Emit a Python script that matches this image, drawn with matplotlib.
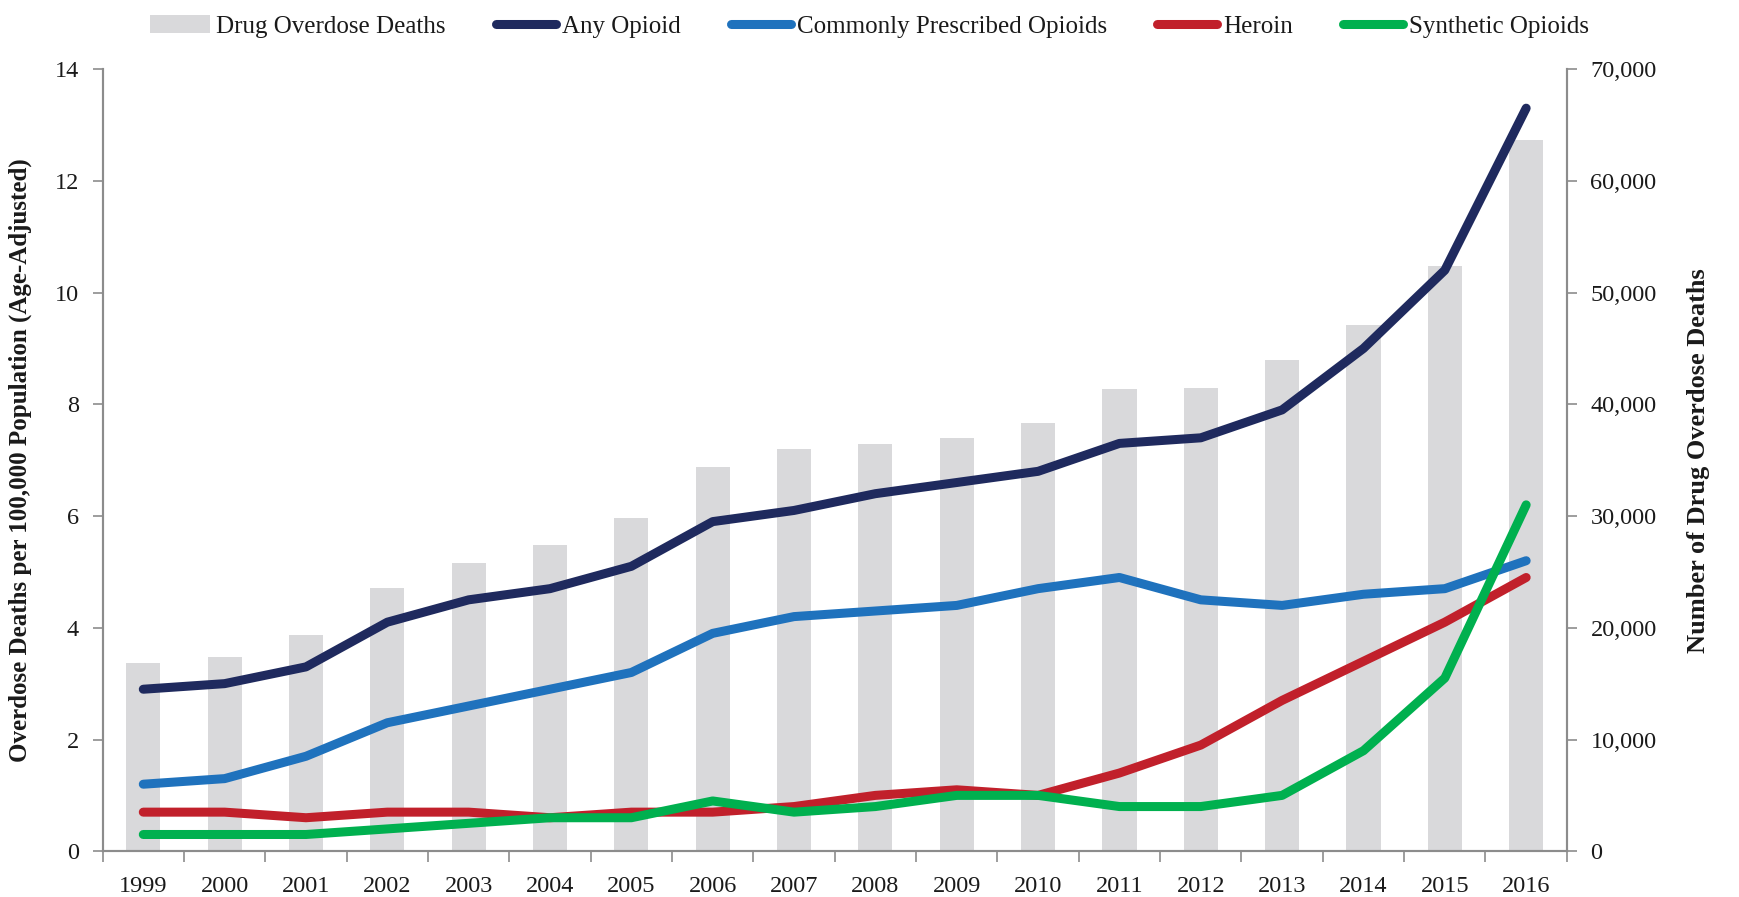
import matplotlib
matplotlib.use("Agg")
import matplotlib.pyplot as plt
from matplotlib.patches import Patch
from matplotlib.lines import Line2D
from matplotlib.ticker import FuncFormatter
import numpy as np

plt.rcParams['font.family'] = ['Liberation Serif', 'DejaVu Serif']

years = [str(y) for y in range(1999, 2017)]

# number of drug overdose deaths (right axis, bars)
total_deaths = [16849, 17415, 19394, 23518, 25785, 27424, 29813, 34425, 36010,
                36450, 37004, 38329, 41340, 41502, 43982, 47055, 52404, 63632]

# rates per 100,000 (left axis, lines)
any_opioid = [2.9, 3.0, 3.3, 4.1, 4.5, 4.7, 5.1, 5.9, 6.1, 6.4, 6.6, 6.8,
              7.3, 7.4, 7.9, 9.0, 10.4, 13.3]
prescribed = [1.2, 1.3, 1.7, 2.3, 2.6, 2.9, 3.2, 3.9, 4.2, 4.3, 4.4, 4.7,
              4.9, 4.5, 4.4, 4.6, 4.7, 5.2]
heroin = [0.7, 0.7, 0.6, 0.7, 0.7, 0.6, 0.7, 0.7, 0.8, 1.0, 1.1, 1.0,
          1.4, 1.9, 2.7, 3.4, 4.1, 4.9]
synthetic = [0.3, 0.3, 0.3, 0.4, 0.5, 0.6, 0.6, 0.9, 0.7, 0.8, 1.0, 1.0,
             0.8, 0.8, 1.0, 1.8, 3.1, 6.2]

series = [
    ("Any Opioid", any_opioid, "#1f2a5e"),
    ("Commonly Prescribed Opioids", prescribed, "#1f72bd"),
    ("Heroin", heroin, "#c1202b"),
    ("Synthetic Opioids", synthetic, "#00b04f"),
]
bar_color = "#d9d9db"
spine_color = "#8c8c8c"
text_color = "#1a1a1a"

fig = plt.figure(figsize=(17.39, 8.97), dpi=100)
ax = fig.add_axes([0.059, 0.051, 0.842, 0.872])
ax2 = ax.twinx()
ax.set_zorder(ax2.get_zorder() + 1)
ax.patch.set_visible(False)

x = np.arange(len(years))

# bars on right axis
ax2.bar(x, total_deaths, width=0.42, color=bar_color, zorder=1)
ax2.set_ylim(0, 70000)
ax2.set_yticks(range(0, 70001, 10000))
ax2.yaxis.set_major_formatter(FuncFormatter(lambda v, p: f"{int(v):,}"))
ax2.set_ylabel("Number of Drug Overdose Deaths", fontsize=19, fontweight='bold',
               color=text_color, labelpad=22)

# lines on left axis
for name, vals, col in series:
    ax.plot(x, vals, color=col, linewidth=6.5, solid_capstyle='round',
            solid_joinstyle='round', zorder=3)
ax.set_ylim(0, 14)
ax.set_yticks(range(0, 15, 2))
ax.set_ylabel("Overdose Deaths per 100,000 Population (Age-Adjusted)",
              fontsize=18, fontweight='bold', color=text_color, labelpad=16)

ax.set_xlim(-0.5, len(years) - 0.5)
ax.set_xticks(x)
ax.set_xticklabels(years)
ax.set_xticks(np.arange(-0.5, len(years)), minor=True)
ax.tick_params(axis='x', which='major', length=0, pad=18, labelsize=17.5,
               labelcolor=text_color)
ax.tick_params(axis='x', which='minor', length=8, direction='out',
               color=spine_color, width=1.2)

ax.tick_params(axis='y', length=7, direction='out', color=spine_color, width=1.2,
               labelsize=17.5, labelcolor=text_color, pad=10)
ax2.tick_params(axis='y', length=7, direction='out', color=spine_color, width=1.2,
                labelsize=17.5, labelcolor=text_color, pad=10)

for a in (ax, ax2):
    a.spines['top'].set_visible(False)
    for s in ('left', 'right', 'bottom'):
        a.spines[s].set_color(spine_color)
        a.spines[s].set_linewidth(1.5)

handles = [Patch(facecolor=bar_color, edgecolor='none')]
labels = ["Drug Overdose Deaths"]
for name, vals, col in series:
    handles.append(Line2D([0], [0], color=col, linewidth=6.5, solid_capstyle='round'))
    labels.append(name)
fig.legend(handles, labels, loc='upper center', bbox_to_anchor=(0.5, 1.008),
           ncol=5, frameon=False, fontsize=18, handlelength=2.4,
           handletextpad=0.25, columnspacing=2.0, labelcolor=text_color)

fig.savefig("out.png", dpi=100, facecolor='white')
